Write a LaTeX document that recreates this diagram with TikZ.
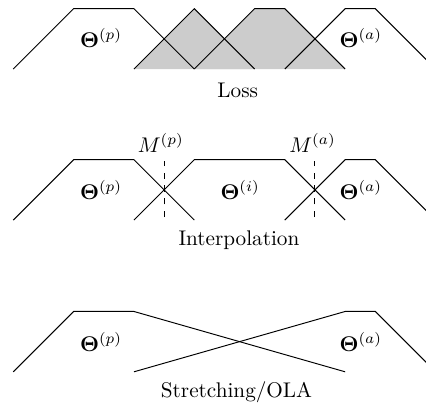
\documentclass[tikz,border=0pt]{standalone}
\usepackage{amsmath,bm}
\begin{document}
\begin{tikzpicture}[x=1cm,y=1cm,
  win/.style={line width=0.45pt},
  lossfill/.style={fill=black!20,draw=none},
  marker/.style={dashed,line width=0.45pt},
  lbl/.style={inner sep=0pt}]
\clip (-0.22,0) rectangle (6.84,6.697);
\useasboundingbox (-0.22,0) rectangle (6.84,6.697);
% ---------- Top: Loss ----------
\def\yb{5.553}\def\yt{6.553}
\fill[lossfill] (2,\yb) -- (3,\yt) -- (4,\yb) -- cycle;
\fill[lossfill] (3,\yb) -- (4,\yt) -- (4.5,\yt) -- (5.5,\yb) -- cycle;
\draw[win] (0,\yb) -- (1,\yt) -- (2,\yt) -- (3,\yb);
\draw[win] (2,\yb) -- (3,\yt) -- (4,\yb);
\draw[win] (3,\yb) -- (4,\yt) -- (4.5,\yt) -- (5.5,\yb);
\draw[win] (4.5,\yb) -- (5.5,\yt) -- (6,\yt) -- (7,\yb);
\node[lbl] (tp) at (1.455,6.07) {$\boldsymbol{\Theta}^{(p)}$};
\node[lbl] (ta) at (5.76,6.07) {$\boldsymbol{\Theta}^{(a)}$};
\node[lbl] (loss) at (3.72,5.2) {Loss};
% ---------- Middle: Interpolation ----------
\def\yb{3.05}\def\yt{4.05}
\draw[win] (0,\yb) -- (1,\yt) -- (2,\yt) -- (3,\yb);
\draw[win] (2,\yb) -- (3,\yt) -- (4.5,\yt) -- (5.5,\yb);
\draw[win] (4.5,\yb) -- (5.5,\yt) -- (6,\yt) -- (7,\yb);
\coordinate (mpb) at (2.5,3.1);
\coordinate (mpt) at (2.5,4.035);
\coordinate (mab) at (5.0,3.1);
\coordinate (mat) at (5.0,4.035);
\draw[marker] (mpb) -- (mpt);
\draw[marker] (mab) -- (mat);
\node[lbl] (mp) at (2.445,4.33) {$M^{(p)}$};
\node[lbl] (ma) at (4.96,4.33) {$M^{(a)}$};
\node[lbl] (ip) at (1.455,3.55) {$\boldsymbol{\Theta}^{(p)}$};
\node[lbl] (ii) at (3.76,3.55) {$\boldsymbol{\Theta}^{(i)}$};
\node[lbl] (ia) at (5.76,3.55) {$\boldsymbol{\Theta}^{(a)}$};
\node[lbl] (interp) at (3.74,2.72) {Interpolation};
% ---------- Bottom: Stretching/OLA ----------
\def\yb{0.535}\def\yt{1.535}
\draw[win] (0,\yb) -- (1,\yt) -- (2,\yt) -- (5.5,\yb);
\draw[win] (2,\yb) -- (5.5,\yt) -- (6,\yt) -- (7,\yb);
\node[lbl] (sp) at (1.455,1.03) {$\boldsymbol{\Theta}^{(p)}$};
\node[lbl] (sa) at (5.76,1.03) {$\boldsymbol{\Theta}^{(a)}$};
\node[lbl] (ola) at (3.70,0.19) {Stretching/OLA};
\end{tikzpicture}
\end{document}
